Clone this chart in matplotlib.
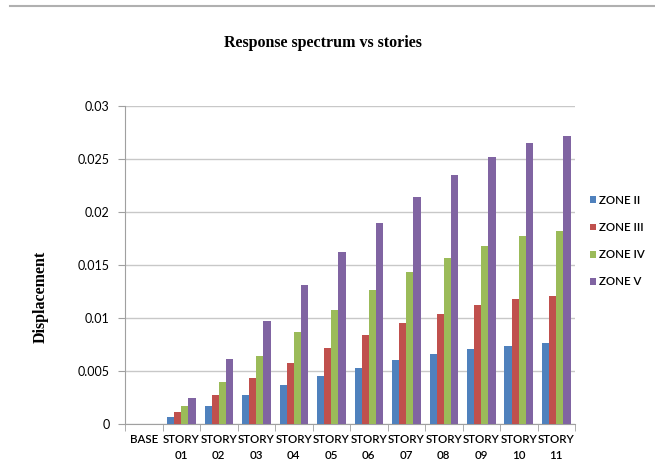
import matplotlib
matplotlib.use("Agg")
import matplotlib.pyplot as plt
import numpy as np

stories = ["BASE", "STORY\n01", "STORY\n02", "STORY\n03", "STORY\n04", "STORY\n05",
           "STORY\n06", "STORY\n07", "STORY\n08", "STORY\n09", "STORY\n10", "STORY\n11"]
zone_ii = [0, 0.0007, 0.0017, 0.0027, 0.0037, 0.0045, 0.0053, 0.0060, 0.0066, 0.0071, 0.0074, 0.0076]
zone_iii = [0, 0.0011, 0.0027, 0.0043, 0.0058, 0.0072, 0.0084, 0.0095, 0.0104, 0.0112, 0.0118, 0.0121]
zone_iv = [0, 0.0017, 0.0040, 0.0064, 0.0087, 0.0108, 0.0126, 0.0143, 0.0157, 0.0168, 0.0177, 0.0182]
zone_v = [0, 0.0025, 0.0061, 0.0097, 0.0131, 0.0162, 0.0190, 0.0214, 0.0235, 0.0252, 0.0265, 0.0272]
zone_names = ["ZONE II", "ZONE III", "ZONE IV", "ZONE V"]
colors = ["#4F81BD", "#C0504D", "#9BBB59", "#8064A2"]

sans = "Lato"

fig = plt.figure(figsize=(6.55, 4.73), dpi=100)
ax = fig.add_axes([125/655, 49/473, 450/655, 318/473])

x = np.arange(len(stories))
w = 0.19
for i, (vals, name) in enumerate(zip([zone_ii, zone_iii, zone_iv, zone_v], zone_names)):
    ax.bar(x + (i - 1.5) * w, vals, width=w, color=colors[i], label=name, zorder=3)

ax.set_xlim(-0.5, len(stories) - 0.5)
ax.set_ylim(0, 0.03)
yt = np.arange(0, 0.0301, 0.005)
ax.set_yticks(yt)
ax.set_yticklabels(["0", "0.005", "0.01", "0.015", "0.02", "0.025", "0.03"],
                   fontsize=9, family=sans)
ax.set_xticks(x)
ax.set_xticklabels(stories, fontsize=8.3, family=sans, fontweight="semibold", linespacing=1.55)
ax.set_xticks(np.arange(-0.5, len(stories)), minor=True)
ax.tick_params(axis="x", which="major", length=0, pad=7)
ax.tick_params(axis="x", which="minor", length=5, color="#A0A0A0")
ax.tick_params(axis="y", length=5, color="#A0A0A0", pad=6)
ax.grid(axis="y", color="#C8C8C8", linewidth=1, zorder=0)

for s in ["top", "right"]:
    ax.spines[s].set_visible(False)
ax.spines["left"].set_color("#A0A0A0")
ax.spines["bottom"].set_color("#A0A0A0")

ax.set_ylabel("Displacement", fontsize=11.5, fontweight="bold", family="Liberation Serif")
ax.yaxis.set_label_coords(-0.17, 0.40)
fig.text(0.5 - 5/655, 1 - 43/473, "Response spectrum vs stories", ha="center", va="center",
         fontsize=11.5, fontweight="bold", family="Liberation Serif")

ax.legend(loc="center left", bbox_to_anchor=(1.01, 0.575), frameon=False,
          handlelength=0.55, handleheight=0.55, handletextpad=0.25, labelspacing=1.4,
          prop={"family": sans, "size": 8.3, "weight": "semibold"})

fig.add_artist(plt.Line2D([10/655, 1], [1 - 6/473, 1 - 6/473], color="#B0B0B0", linewidth=1.5))

fig.savefig("out.png", dpi=100)
